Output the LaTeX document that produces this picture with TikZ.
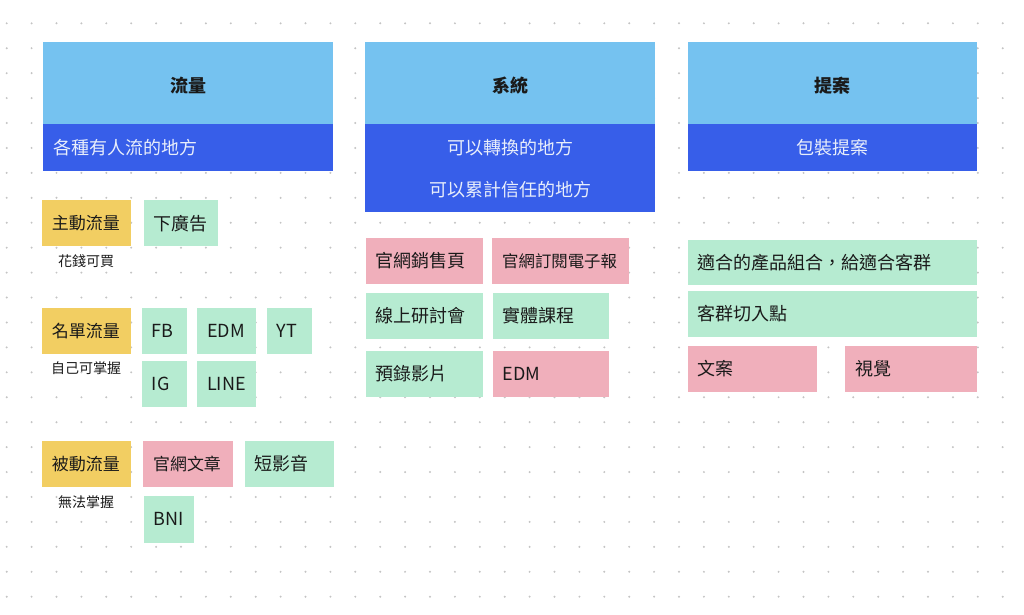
\documentclass[tikz,border=0pt]{standalone}
\usepackage{fontspec}
\setmainfont{Noto Sans CJK TC}
\newfontfamily\cjk{Noto Sans CJK TC}
\definecolor{hdlight}{HTML}{75C2F0}
\definecolor{hddark}{HTML}{375EE9}
\definecolor{ylw}{HTML}{F2CE62}
\definecolor{grn}{HTML}{B6EBD1}
\definecolor{pnk}{HTML}{F0AFBB}
\definecolor{txt}{HTML}{1A1A1A}
\definecolor{subtxt}{HTML}{E8EEFB}
\definecolor{dotc}{HTML}{C4C4C4}
\tikzset{
  base/.style={anchor=north west, inner ysep=0pt, draw=none},
  item/.style={base, inner xsep=10pt, align=left, text=txt, font=\cjk\fontsize{18}{20}\selectfont},
  small/.style={font=\cjk\fontsize{#1}{20}\selectfont},
  yl/.style={item, fill=ylw, small=17},
  gr/.style={item, fill=grn},
  pk/.style={item, fill=pnk},
  hdtop/.style={base, fill=hdlight, inner xsep=0pt, text=txt, text height=18.7pt, text depth=0pt, font=\cjk\bfseries\fontsize{18}{20}\selectfont},
  hdsub/.style={base, fill=hddark, inner xsep=10pt, text=subtxt, font=\cjk\fontsize{18}{42}\selectfont},
  note/.style={text=txt, font=\cjk\fontsize{14}{16}\selectfont, inner sep=0pt}
}
\begin{document}
\begin{tikzpicture}[x=1pt,y=-1pt]
\useasboundingbox[fill=white] (0,0) rectangle (1024,614);
% dot grid
\foreach \i in {0,...,40}{
  \foreach \j in {0,...,23}{
    \fill[dotc] (6.7+24.9*\i, 23.3+24.93*\j) circle (1.1pt);
  }
}
% headers
\node[hdtop, minimum width=290, minimum height=82.3] (h1) at (43,41.7) {流量};
\node[hdsub, text width=270, minimum height=46.7, align=left] (s1) at (43,124) {各種有人流的地方};
\node[hdtop, minimum width=290, minimum height=82.3] (h2) at (365,41.7) {系統};
\node[hdsub, text width=270, minimum height=88, align=center] (s2) at (365,124) {可以轉換的地方\\可以累計信任的地方};
\node[hdtop, minimum width=289, minimum height=82.3] (h3) at (687.7,41.7) {提案};
\node[hdsub, text width=269, minimum height=46.7, align=center] (s3) at (687.7,124) {包裝提案};
% column 1
\node[yl, text width=69, minimum height=46] (y1) at (41.7,200) {主動流量};
\node[gr, text width=54.7, minimum height=46] (ad) at (143.3,200) {下廣告};
\node[note] (n1) at (86,261) {花錢可買};
\node[yl, text width=69, minimum height=46.7] (y2) at (41.7,307.3) {名單流量};
\node[gr, text width=25, minimum height=46.7] (fb) at (141.7,307.3) {FB};
\node[gr, text width=39, minimum height=46.7] (edm1) at (197,307.3) {EDM};
\node[gr, text width=25, minimum height=46.7] (yt) at (266.7,307.3) {YT};
\node[gr, text width=25, minimum height=46] (ig) at (141.7,360.7) {IG};
\node[gr, text width=39, minimum height=46] (line) at (197,360.7) {LINE};
\node[note] (n2) at (86,367.7) {自己可掌握};
\node[yl, text width=69, minimum height=46] (y3) at (41.7,440.7) {被動流量};
\node[pk, small=16.9, text width=69.7, minimum height=46] (art) at (143,440.7) {官網文章};
\node[gr, text width=69, minimum height=46] (sv) at (244.3,440.7) {短影音};
\node[gr, text width=30.7, minimum height=46.3] (bni) at (143.3,496) {BNI};
\node[note] (n3) at (86,501.7) {無法掌握};
% column 2
\node[pk, text width=96.6, minimum height=46] (c1) at (365.7,237.7) {官網銷售頁};
\node[pk, small=16.4, text width=116.7, minimum height=46] (c2) at (492,237.7) {官網訂閱電子報};
\node[gr, text width=96.6, minimum height=46.4] (c3) at (365.7,292.3) {線上研討會};
\node[gr, text width=96.4, minimum height=46.4] (c4) at (492.3,292.3) {實體課程};
\node[gr, text width=96.6, minimum height=46.3] (c5) at (365.7,350.7) {預錄影片};
\node[pk, text width=96.4, minimum height=46.3] (c6) at (492.3,350.7) {EDM};
% column 3
\node[gr, text width=269, minimum height=45.7] (d1) at (687.7,239.3) {適合的產品組合，給適合客群};
\node[gr, text width=269, minimum height=46] (d2) at (687.7,290.7) {客群切入點};
\node[pk, text width=109, minimum height=46.4] (d3) at (687.7,345.3) {文案};
\node[pk, text width=111.7, minimum height=46.4] (d4) at (845,345.3) {視覺};
\end{tikzpicture}
\end{document}
